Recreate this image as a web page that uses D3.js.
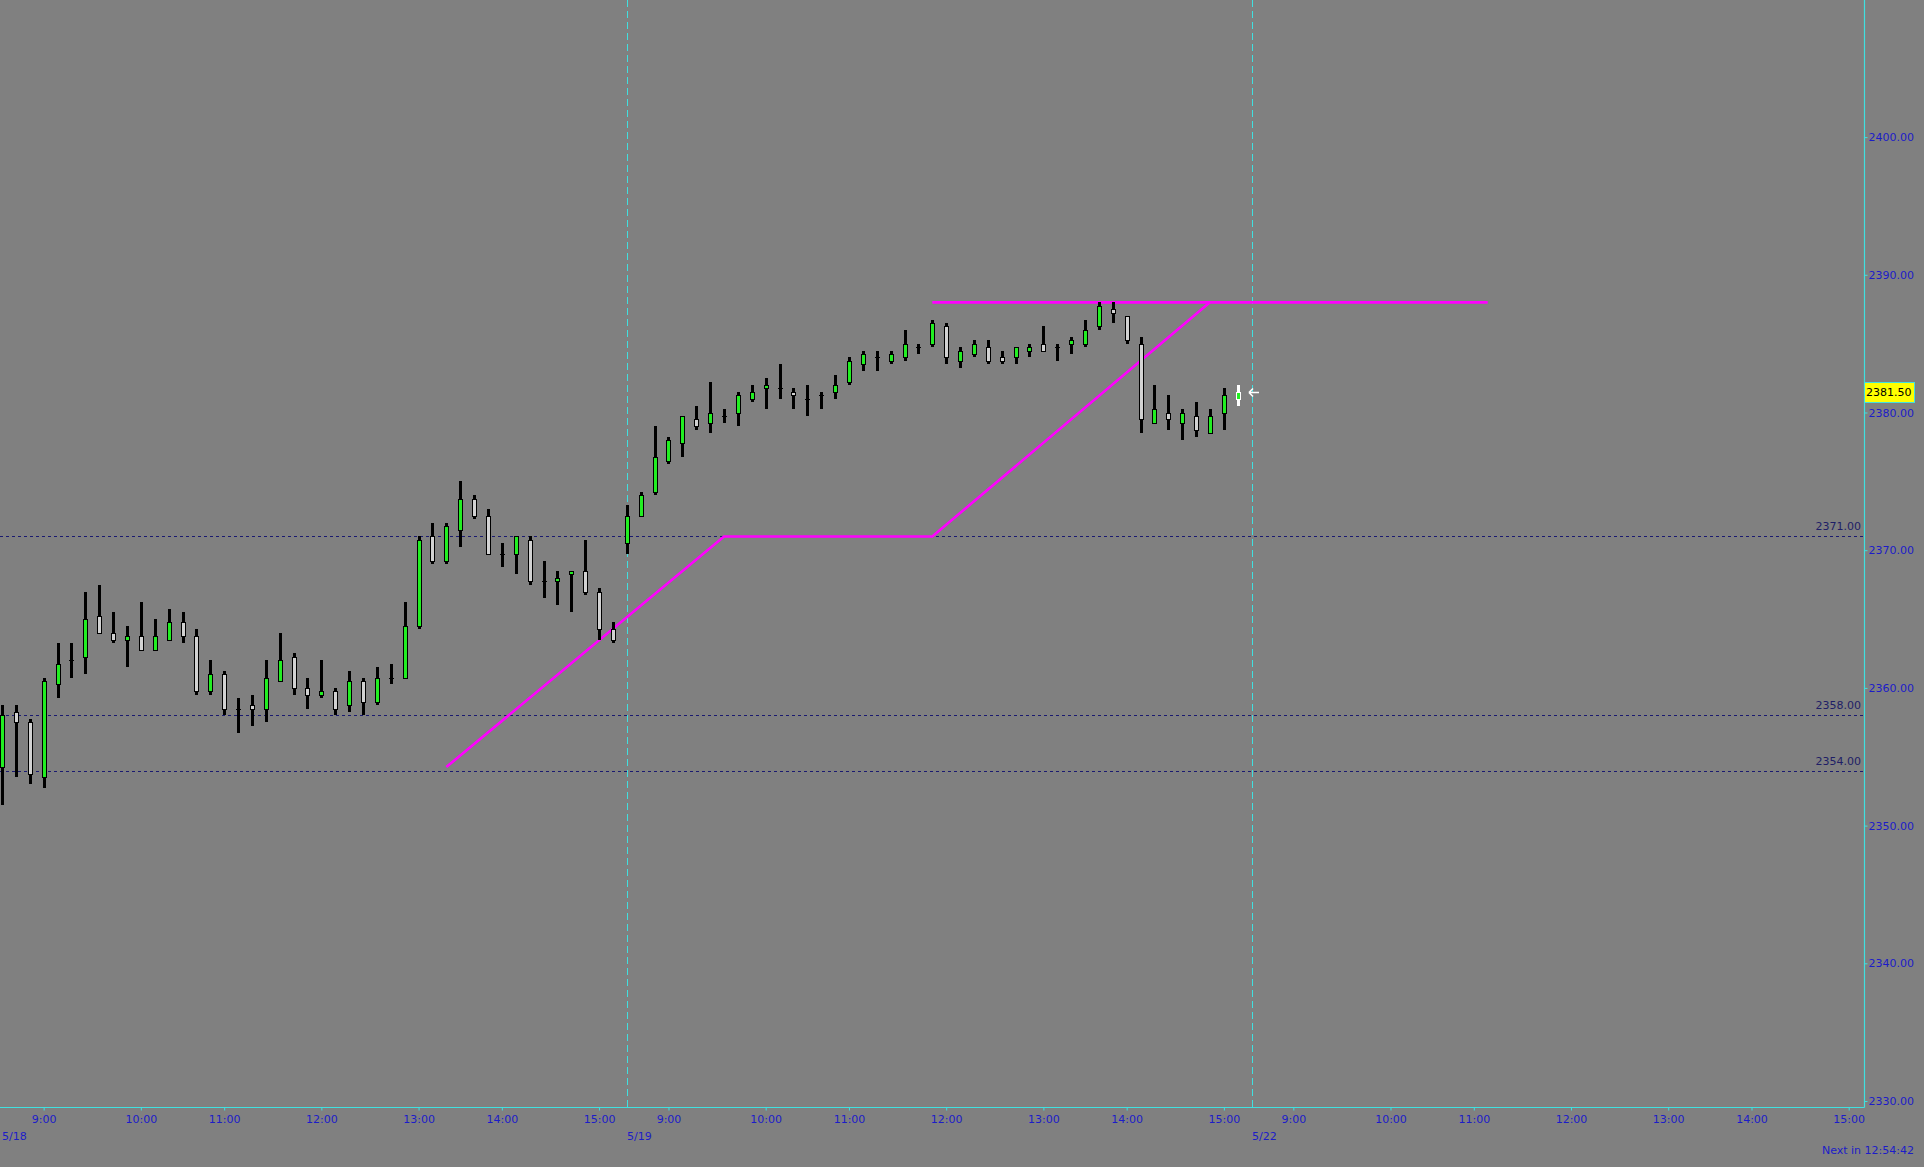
<!DOCTYPE html>
<html>
<head>
<meta charset="utf-8">
<script src="https://cdn.jsdelivr.net/npm/d3@7"></script>
<style>
  html, body { margin: 0; padding: 0; background: #808080; overflow: hidden; }
  svg { display: block; }
  text { font-family: "DejaVu Sans", Verdana, sans-serif; font-size: 11px; }
</style>
</head>
<body>
<div id="chart"></div>
<script>
// ---------------- data ----------------
const opens  = [2354.25,2358.25,2357.5,2353.5,2360.25,2362.0,2362.25,2365.25,2364.0,2363.5,
                2363.75,2362.75,2363.5,2364.75,2363.75,2359.75,2361.0,2358.5,2358.75,2358.5,
                2360.5,2362.25,2360.0,2359.5,2359.75,2358.75,2360.5,2359.0,2360.75,2360.75,
                2364.5,2371.0,2369.25,2371.5,2373.75,2372.5,2369.75,2369.75,2370.75,2367.75,
                2367.75,2368.25,2368.5,2367.0,2364.25,
                2370.5,2372.5,2374.25,2376.5,2377.75,2379.5,2379.25,2379.75,2380.0,2381.0,
                2381.75,2381.75,2381.5,2381.0,2381.25,2381.5,2382.25,2383.5,2384.0,2383.75,
                2384.0,2384.75,2385.0,2386.25,2383.75,2384.25,2384.75,2384.0,2384.0,2384.5,
                2385.0,2384.75,2385.0,2385.0,2386.25,2387.5,2387.0,2385.0,2379.25,2380.0,
                2379.25,2379.75,2378.5,2380.0,2381.0];
const highs  = [2358.75,2358.75,2357.75,2360.75,2363.25,2363.25,2367.0,2367.5,2365.5,2364.5,
                2366.25,2365.0,2365.75,2365.5,2364.25,2362.0,2361.25,2359.25,2359.5,2362.0,
                2364.0,2362.5,2360.75,2362.0,2360.0,2361.25,2360.75,2361.5,2361.75,2366.25,
                2371.0,2372.0,2372.0,2375.0,2374.0,2373.0,2370.5,2371.0,2371.0,2369.25,
                2368.5,2368.5,2370.75,2367.25,2364.75,
                2373.25,2374.25,2379.0,2378.25,2379.75,2380.5,2382.25,2380.25,2381.5,2382.0,
                2382.5,2383.5,2381.75,2382.0,2381.5,2382.75,2384.0,2384.5,2384.5,2384.5,
                2386.0,2385.0,2386.75,2386.5,2384.75,2385.25,2385.25,2384.5,2384.75,2385.0,
                2386.25,2385.0,2385.5,2386.75,2388.0,2388.0,2387.0,2385.5,2382.0,2381.25,
                2380.25,2380.75,2380.25,2381.75,2382.0];
const lows   = [2351.5,2353.5,2353.0,2352.75,2359.25,2360.75,2361.0,2364.0,2363.25,2361.5,
                2362.75,2362.75,2363.5,2363.25,2359.5,2359.5,2358.0,2356.75,2357.25,2357.5,
                2360.5,2359.5,2358.5,2359.25,2358.0,2358.25,2358.0,2358.75,2360.25,2360.75,
                2364.25,2369.0,2369.0,2370.25,2372.25,2369.75,2368.75,2368.25,2367.5,2366.5,
                2366.0,2365.5,2366.75,2363.5,2363.25,
                2369.75,2372.5,2374.0,2376.25,2376.75,2378.75,2378.5,2379.25,2379.0,2380.75,
                2380.25,2381.0,2380.25,2379.75,2380.25,2381.0,2382.0,2383.0,2383.0,2383.5,
                2383.75,2384.25,2384.75,2383.5,2383.25,2384.0,2383.5,2383.5,2383.5,2384.0,
                2384.5,2383.75,2384.25,2384.75,2386.0,2386.5,2385.0,2378.5,2379.25,2378.75,
                2378.0,2378.25,2378.5,2378.75,2380.5];
const closes = [2358.0,2357.5,2353.75,2360.5,2361.75,2362.0,2365.0,2364.0,2363.5,2363.75,
                2362.75,2363.75,2364.75,2363.75,2359.75,2361.0,2358.5,2358.5,2358.5,2360.75,
                2362.0,2360.0,2359.5,2359.75,2358.5,2360.5,2359.0,2360.75,2360.75,2364.5,
                2370.75,2369.25,2371.75,2373.75,2372.5,2369.75,2369.75,2371.0,2367.75,2367.75,
                2368.0,2368.5,2367.0,2364.25,2363.5,
                2372.5,2374.0,2376.75,2378.0,2379.75,2379.0,2380.0,2379.75,2381.25,2381.5,
                2382.0,2381.75,2381.25,2381.0,2381.25,2382.0,2383.75,2384.25,2384.0,2384.25,
                2385.0,2384.75,2386.5,2384.0,2384.5,2385.0,2383.75,2383.75,2384.75,2384.75,
                2384.5,2384.75,2385.25,2386.0,2387.75,2387.25,2385.25,2379.5,2380.25,2379.5,
                2380.0,2378.75,2379.75,2381.25,2381.5];

const priceTicks   = [2330, 2340, 2350, 2360, 2370, 2380, 2390, 2400];
const timeTickIdx  = [3, 10, 16, 23, 30, 36, 43, 48, 55, 61, 68, 75, 81, 88, 93, 100, 106, 113, 120, 126, 133];
const timeTickText = ["9:00","10:00","11:00","12:00","13:00","14:00","15:00",
                      "9:00","10:00","11:00","12:00","13:00","14:00","15:00",
                      "9:00","10:00","11:00","12:00","13:00","14:00","15:00"];
const dateIdx      = [0, 45, 90];
const dateText     = ["5/18", "5/19", "5/22"];
const sessionBreaks = [45, 90];
const levelPrices  = [2371, 2358, 2354];
const trendIdx     = [32, 52, 67, 87];
const trendPrice   = [2354.25, 2371, 2371, 2388];
const resistIdx    = [67, 107];
const resistPrice  = [2388, 2388];
const lastPrice    = 2381.5;
const countdownText = "Next in 12:54:42";

// ---------------- layout ----------------
const W = 1924, H = 1167;
const axisX = 1864, axisY = 1107;
const cyan = "#40e0e0", tickBlue = "#1c1cc8", levelNavy = "#1e1e66";

const x = d3.scaleLinear().domain([0, 133]).range([2, 1848.7]);
const y = d3.scaleLinear().domain([2330, 2400]).range([1101, 137.1]);

const svg = d3.select("#chart").append("svg")
  .attr("width", W).attr("height", H);

svg.append("rect").attr("width", W).attr("height", H).attr("fill", "#808080");

// level dashed lines
const lv = svg.append("g");
levelPrices.forEach(p => {
  const yy = Math.round(y(p)) + 0.5;
  lv.append("line").attr("x1", 0).attr("x2", axisX).attr("y1", yy).attr("y2", yy)
    .attr("stroke", "#1a1a70").attr("stroke-width", 1).attr("stroke-dasharray", "3,3");
  lv.append("text").attr("x", axisX - 3).attr("y", yy - 10).attr("dy", "0.35em")
    .attr("text-anchor", "end").attr("fill", levelNavy).text(p.toFixed(2));
});

// session separators
sessionBreaks.forEach(i => {
  const xx = Math.round(x(i)) + 0.5;
  svg.append("line").attr("x1", xx).attr("x2", xx).attr("y1", 0).attr("y2", axisY)
    .attr("stroke", cyan).attr("stroke-width", 1).attr("stroke-dasharray", "7,4");
});

// trend lines
const line = d3.line().x(d => x(d[0])).y(d => y(d[1]));
svg.append("path")
  .attr("d", line(trendIdx.map((d, i) => [d, trendPrice[i]])))
  .attr("fill", "none").attr("stroke", "#ff00ff").attr("stroke-width", 2.6);
svg.append("path")
  .attr("d", line(resistIdx.map((d, i) => [d, resistPrice[i]])))
  .attr("fill", "none").attr("stroke", "#ff00ff").attr("stroke-width", 2.6);

// candles
const bars = opens.map((o, i) => ({ i, o, h: highs[i], l: lows[i], c: closes[i] }));
const last = bars.length - 1;
const cg = svg.append("g").attr("shape-rendering", "crispEdges");
bars.forEach(b => {
  const cx = Math.round(x(b.i));
  const isLast = b.i === last;
  const wickCol = isLast ? "#ffffff" : "#000000";
  const yh = Math.round(y(b.h)), yl = Math.round(y(b.l));
  cg.append("rect").attr("x", cx - 1).attr("y", yh).attr("width", 3)
    .attr("height", Math.max(1, yl - yh)).attr("fill", wickCol);
  if (b.o === b.c) {
    cg.append("rect").attr("x", cx - 2).attr("y", Math.round(y(b.o))).attr("width", 5)
      .attr("height", 1).attr("fill", wickCol);
  } else {
    const top = Math.round(y(Math.max(b.o, b.c))), bot = Math.round(y(Math.min(b.o, b.c)));
    cg.append("rect").attr("x", cx - 1.5).attr("y", top + 0.5).attr("width", 4)
      .attr("height", bot - top)
      .attr("fill", b.c > b.o ? "#22ee22" : "#d2d2d2")
      .attr("stroke", wickCol).attr("stroke-width", 1);
  }
});

// current price arrow
const ay = Math.round(y(lastPrice)) + 0.5;
const ax = Math.round(x(last)) + 11;
svg.append("path")
  .attr("d", `M${ax},${ay} L${ax + 10},${ay} M${ax},${ay} L${ax + 4},${ay - 4} M${ax},${ay} L${ax + 4},${ay + 4}`)
  .attr("stroke", "#ffffff").attr("stroke-width", 1.6).attr("fill", "none");

// axes lines
svg.append("line").attr("x1", axisX + 0.5).attr("x2", axisX + 0.5).attr("y1", 0).attr("y2", axisY + 0.5)
  .attr("stroke", cyan).attr("stroke-width", 1.2);
svg.append("line").attr("x1", 0).attr("x2", axisX + 0.5).attr("y1", axisY + 0.5).attr("y2", axisY + 0.5)
  .attr("stroke", cyan).attr("stroke-width", 1.2);

// y axis
const yAxis = d3.axisRight(y).tickValues(priceTicks).tickFormat(d3.format(".2f"))
  .tickSize(3).tickPadding(1).tickSizeOuter(0);
const gy = svg.append("g").attr("transform", `translate(${axisX + 0.5},0)`).call(yAxis);
gy.select(".domain").remove();
gy.selectAll("line").attr("stroke", cyan);
gy.selectAll("text").attr("fill", tickBlue).style("font-family", "DejaVu Sans").style("font-size", "11px");

// x axis
const xAxis = d3.axisBottom(x).tickValues(timeTickIdx)
  .tickFormat((d, i) => timeTickText[i]).tickSize(3).tickPadding(5).tickSizeOuter(0);
const gx = svg.append("g").attr("transform", `translate(0,${axisY + 0.5})`).call(xAxis);
gx.select(".domain").remove();
gx.selectAll("line").attr("stroke", cyan);
gx.selectAll("text").attr("fill", tickBlue).style("font-family", "DejaVu Sans").style("font-size", "11px");

// date labels
dateIdx.forEach((d, i) => {
  svg.append("text").attr("x", Math.round(x(d))).attr("y", 1136).attr("dy", "0.35em")
    .attr("fill", tickBlue).text(dateText[i]);
});

// last price box
const by = y(lastPrice);
svg.append("rect").attr("x", axisX + 0.5).attr("y", Math.round(by) - 10 + 0.5).attr("width", 50).attr("height", 20)
  .attr("fill", "#ffff00").attr("stroke", cyan).attr("stroke-width", 1);
svg.append("text").attr("x", axisX + 2).attr("y", by).attr("dy", "0.35em")
  .attr("fill", "#000000").text(lastPrice.toFixed(2));

// countdown
svg.append("text").attr("x", 1914).attr("y", 1150).attr("dy", "0.35em")
  .attr("text-anchor", "end").attr("fill", tickBlue).text(countdownText);
</script>
</body>
</html>
